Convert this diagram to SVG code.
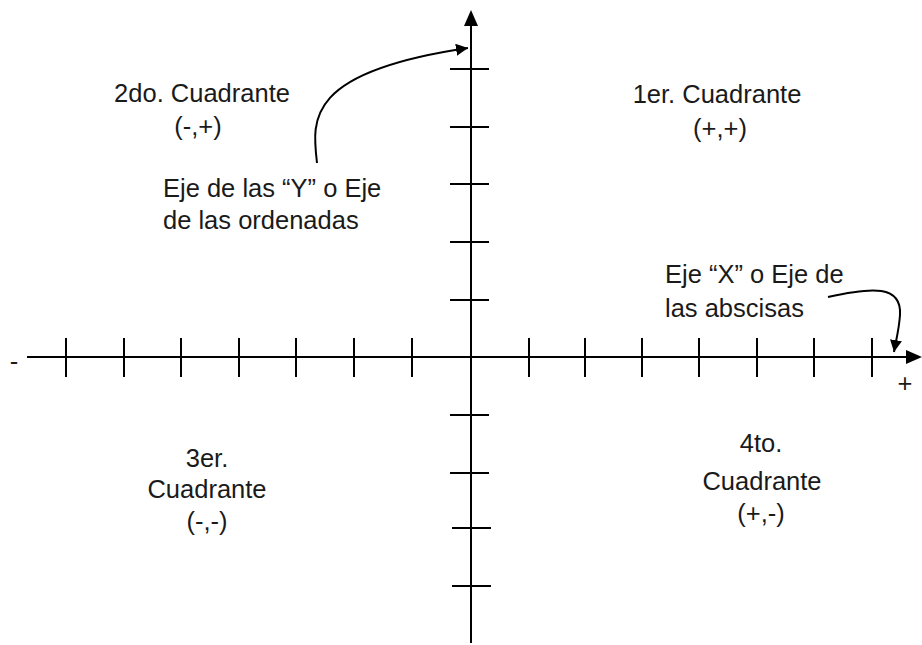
<svg xmlns="http://www.w3.org/2000/svg" width="922" height="645" viewBox="0 0 922 645">
<defs>
<marker id="ah" viewBox="0 0 10 10" refX="10" refY="5" markerWidth="6" markerHeight="6" markerUnits="strokeWidth" orient="auto">
<path d="M0,0 L10,5 L0,10 z" fill="#000"/>
</marker>
</defs>
<style>
.ax{stroke:#000;stroke-width:2;fill:none}
.tk{stroke:#000;stroke-width:2}
.cv{stroke:#000;stroke-width:2;fill:none}
text{font-family:"Liberation Sans",Arial,sans-serif;font-size:25.5px;fill:#1a1a1a}
.c{text-anchor:middle}
</style>
<g id="connectors">
<line id="x-axis" class="ax" x1="27" y1="357" x2="906" y2="357"/>
<polygon points="906,350 922,357 906,364" fill="#000"/>
<line id="y-axis" class="ax" x1="471" y1="643" x2="471" y2="26"/>
<polygon points="464,26 471,10 478,26" fill="#000"/>
<g class="tk">
<line x1="66" y1="338" x2="66" y2="377"/>
<line x1="124" y1="338" x2="124" y2="377"/>
<line x1="181" y1="338" x2="181" y2="377"/>
<line x1="239" y1="338" x2="239" y2="377"/>
<line x1="296" y1="338" x2="296" y2="377"/>
<line x1="354" y1="338" x2="354" y2="377"/>
<line x1="412" y1="338" x2="412" y2="377"/>
<line x1="529" y1="338" x2="529" y2="377"/>
<line x1="585" y1="338" x2="585" y2="377"/>
<line x1="642" y1="338" x2="642" y2="377"/>
<line x1="699" y1="338" x2="699" y2="377"/>
<line x1="757" y1="338" x2="757" y2="377"/>
<line x1="814" y1="338" x2="814" y2="377"/>
<line x1="872" y1="338" x2="872" y2="377"/>
<line x1="450" y1="69" x2="489" y2="69"/>
<line x1="450" y1="127" x2="489" y2="127"/>
<line x1="450" y1="184" x2="489" y2="184"/>
<line x1="450" y1="242" x2="489" y2="242"/>
<line x1="450" y1="300" x2="489" y2="300"/>
<line x1="450" y1="415" x2="489" y2="415"/>
<line x1="450" y1="473" x2="489" y2="473"/>
<line x1="452" y1="528" x2="491" y2="528"/>
<line x1="452" y1="586" x2="491" y2="586"/>
</g>
<path id="y-label-arrow" class="cv" d="M317,163 C312,120 305,72 468,48" marker-end="url(#ah)"/>
<path id="x-label-arrow" class="cv" d="M828,297 C872,287 902,285 900,315 C899,330 896,340 894,352" marker-end="url(#ah)"/>
</g>
<g id="q2"><text x="202" y="102" class="c">2do. Cuadrante</text><text x="198" y="135" class="c">(-,+)</text></g>
<g id="q1"><text x="717" y="103" class="c">1er. Cuadrante</text><text x="720" y="137" class="c">(+,+)</text></g>
<g id="q3"><text x="207" y="467" class="c">3er.</text><text x="207" y="498" class="c">Cuadrante</text><text x="207" y="530" class="c">(-,-)</text></g>
<g id="q4"><text x="761" y="452" class="c">4to.</text><text x="762" y="490" class="c">Cuadrante</text><text x="761" y="522" class="c">(+,-)</text></g>
<g id="y-label"><text x="163" y="197">Eje de las “Y” o Eje</text><text x="163" y="229">de las ordenadas</text></g>
<g id="x-label"><text x="665" y="283">Eje “X” o Eje de</text><text x="665" y="317">las abscisas</text></g>
<g id="minus"><text x="14" y="370" class="c">-</text></g>
<g id="plus"><text x="905" y="392" class="c">+</text></g>
</svg>
